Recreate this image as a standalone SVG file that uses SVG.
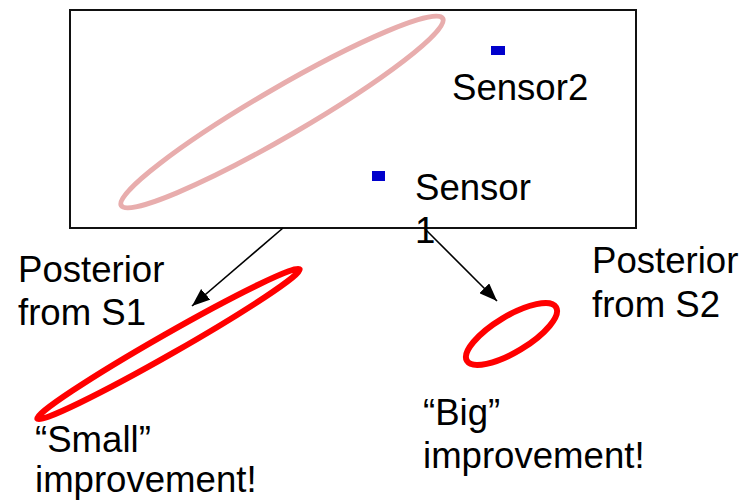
<svg xmlns="http://www.w3.org/2000/svg" width="742" height="500" viewBox="0 0 742 500">
  <defs>
    <marker id="arrowhead" viewBox="0 0 18 14" refX="18" refY="7" markerWidth="18" markerHeight="14" markerUnits="userSpaceOnUse" orient="auto">
      <path d="M0,0 L18,7 L0,14 Z" fill="#000"/>
    </marker>
    <style>
      text { font-family: "Liberation Sans", Arial, sans-serif; font-size: 36.6px; fill: #000; }
      .sensor { fill: #0000CC; }
      .prior { fill: none; stroke: #E8ADAD; stroke-width: 5; }
      .post { fill: none; stroke: #FF0000; stroke-width: 6; }
      .conn { stroke: #000; stroke-width: 1.6; fill: none; marker-end: url(#arrowhead); }
    </style>
  </defs>
  <rect width="742" height="500" fill="#fff"/>

  <!-- field of view with the prior ellipse and both sensors -->
  <g id="field">
    <rect x="70" y="10" width="566" height="218" fill="none" stroke="#111" stroke-width="2"/>
    <ellipse class="prior" cx="282" cy="112" rx="186" ry="24" transform="rotate(-30.2 282 112)"/>
  </g>
  <g id="sensor2">
    <rect class="sensor" x="491" y="46" width="14" height="9"/>
    <text x="452" y="100">Sensor2</text>
  </g>
  <g id="sensor1">
    <rect class="sensor" x="372" y="171" width="13" height="10"/>
    <text x="415" y="200">Sensor</text>
    <text x="415" y="243">1</text>
  </g>

  <!-- posteriors -->
  <g id="posterior-s1">
    <ellipse class="post" cx="168.5" cy="344" rx="151" ry="10" transform="rotate(-29.7 168.5 344)"/>
    <text x="18" y="282">Posterior</text>
    <text x="18" y="325">from S1</text>
    <text x="35" y="452">“Small”</text>
    <text x="35" y="492">improvement!</text>
  </g>
  <g id="posterior-s2">
    <ellipse class="post" cx="511.5" cy="334" rx="52" ry="18" transform="rotate(-31 511.5 334)"/>
    <text x="592" y="273">Posterior</text>
    <text x="592" y="317">from S2</text>
    <text x="423" y="425">“Big”</text>
    <text x="423" y="468">improvement!</text>
  </g>

  <g id="connectors">
    <line class="conn" x1="283" y1="228" x2="192" y2="306"/>
    <line class="conn" x1="425" y1="229" x2="497" y2="301"/>
  </g>
</svg>
